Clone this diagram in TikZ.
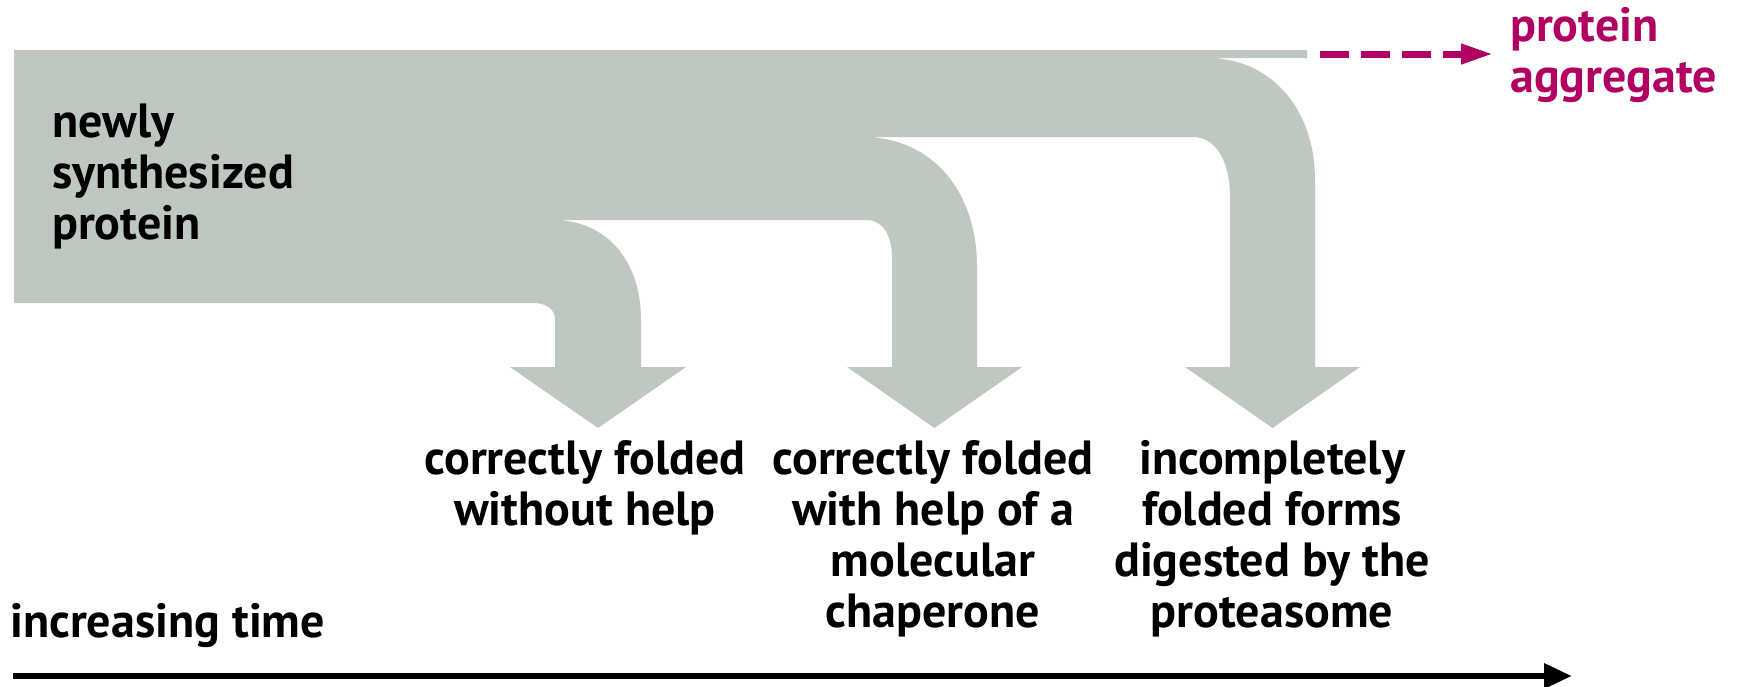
\documentclass[tikz,border=0pt]{standalone}
\usepackage{fontspec}
\setmainfont{PT Sans}
\usetikzlibrary{arrows.meta}
\definecolor{flowgray}{RGB}{190,200,193}
\definecolor{aggmag}{RGB}{178,0,98}
\tikzset{
  lab/.style={font=\bfseries\fontsize{48}{51}\selectfont, inner sep=0pt, align=center, text=black},
  flow/.style={fill=flowgray, draw=none},
  aggline/.style={draw=aggmag, line width=7pt, dash pattern=on 29pt off 12pt, -{Triangle[length=32pt,width=19pt]}},
  timeline/.style={draw=black, line width=6.5pt, -{Triangle[length=28pt,width=24pt]}}
}
\begin{document}
\begin{tikzpicture}[x=1pt,y=-1pt]
\useasboundingbox (0,0) rectangle (1738,686);
% gray flow shape
\fill[flow] (14,50) -- (1307,50) -- (1307,58) -- (1207,58)
 .. controls (1272,58) and (1315,110) .. (1315,180)
 -- (1315,367) -- (1360,367) -- (1272.5,428) -- (1185,367) -- (1230,367) -- (1230,197)
 .. controls (1230,160) and (1215,137) .. (1193,137)
 -- (863,137)
 .. controls (931,137) and (977,190) .. (977,267)
 -- (977,367) -- (1022,367) -- (934.5,428) -- (847,367) -- (892,367) -- (892,257)
 .. controls (892,235) and (882,220) .. (867,220)
 -- (553,220)
 .. controls (606,220) and (641,260) .. (641,320)
 -- (641,367) -- (686,367) -- (598,428) -- (510,367) -- (555,367) -- (555,320)
 .. controls (555,308) and (545,303) .. (533,303)
 -- (14,303) -- cycle;

% multi-line nodes: base anchor = baseline of the last line
\node[lab, align=left, anchor=base west] (newp) at (52,239) {newly\\synthesized\\protein};

\node[lab, anchor=base] (l1) at (585,525) {correctly folded\\without help};
\node[lab, anchor=base] (l2) at (933,627) {correctly folded\\with help of a\\molecular\\chaperone};
\node[lab, anchor=base] (l3) at (1272,627) {incompletely\\folded forms\\digested by the\\proteasome};

\node[lab, text=aggmag, align=left, anchor=base west] (agg) at (1510,92) {protein\\aggregate};
\coordinate (aggstart) at (1320,54);
\draw[aggline, shorten >=17pt] (aggstart) -- (aggstart -| agg.west);

\node[lab, anchor=base west] (time) at (10,637) {increasing time};
\coordinate (t0) at (13,676);
\coordinate (t1) at (1572,676);
\draw[timeline] (t0) -- (t1);
\end{tikzpicture}
\end{document}
